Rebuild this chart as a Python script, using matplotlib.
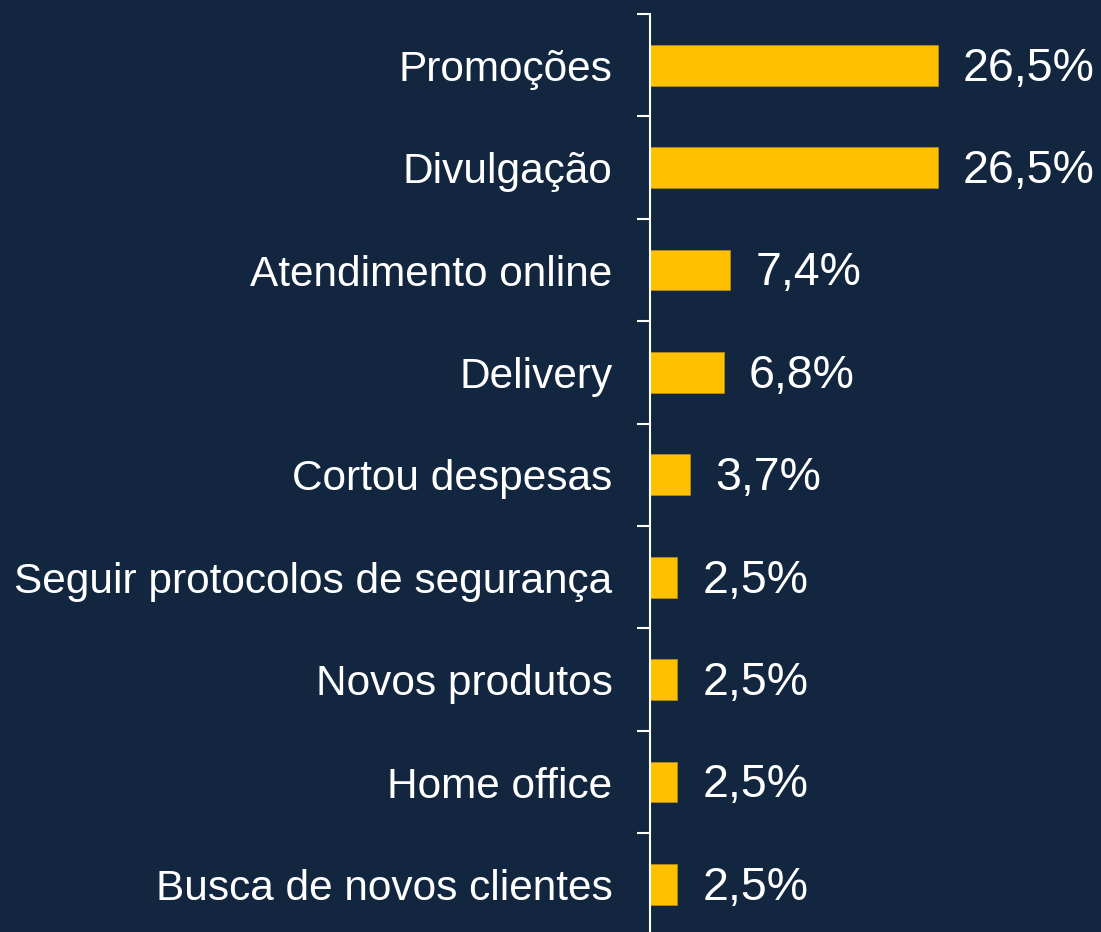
import matplotlib.pyplot as plt
import numpy as np

categories = ["Promoções", "Divulgação", "Atendimento online", "Delivery",
              "Cortou despesas", "Seguir protocolos de segurança",
              "Novos produtos", "Home office", "Busca de novos clientes"]
values = [26.5, 26.5, 7.4, 6.8, 3.7, 2.5, 2.5, 2.5, 2.5]
value_labels = ["26,5%", "26,5%", "7,4%", "6,8%", "3,7%", "2,5%", "2,5%", "2,5%", "2,5%"]

bg = "#12263f"
bar_color = "#ffc000"

plt.rcParams['font.family'] = ['Liberation Sans', 'DejaVu Sans']

fig = plt.figure(figsize=(11.01, 9.32), dpi=100, facecolor=bg)
W, H = 1101, 932
ax = fig.add_axes([650 / W, -3.6 / H, (W - 650) / W, (935.6 - 14) / H])
ax.set_facecolor(bg)

y = np.arange(len(categories))
ax.barh(y, values, height=0.4, color=bar_color, edgecolor="#b08a10", linewidth=0.6)

for yi, v, lab in zip(y, values, value_labels):
    ax.annotate(lab, (v, yi), xytext=(18, -2.5), textcoords="offset points",
                va="center", ha="left", color="white", fontsize=33.5)

ax.set_xlim(0, 41.5)
ax.set_ylim(len(categories) - 0.5, -0.5)

# ticks at category boundaries, labels at centers
ax.set_yticks(np.arange(len(categories) + 1) - 0.5)
ax.set_yticklabels([])
ax.tick_params(axis="y", which="major", length=9.5, width=1.5, color="white", direction="out")
ax.set_yticks(y, minor=True)
ax.set_yticklabels(categories, minor=True)
ax.tick_params(axis="y", which="minor", length=0, pad=27, labelsize=30.5, labelcolor="white")

ax.set_xticks([])
for s in ["top", "right", "bottom"]:
    ax.spines[s].set_visible(False)
ax.spines["left"].set_color("white")
ax.spines["left"].set_linewidth(1.5)

fig.savefig("out.png", dpi=100, facecolor=bg)
